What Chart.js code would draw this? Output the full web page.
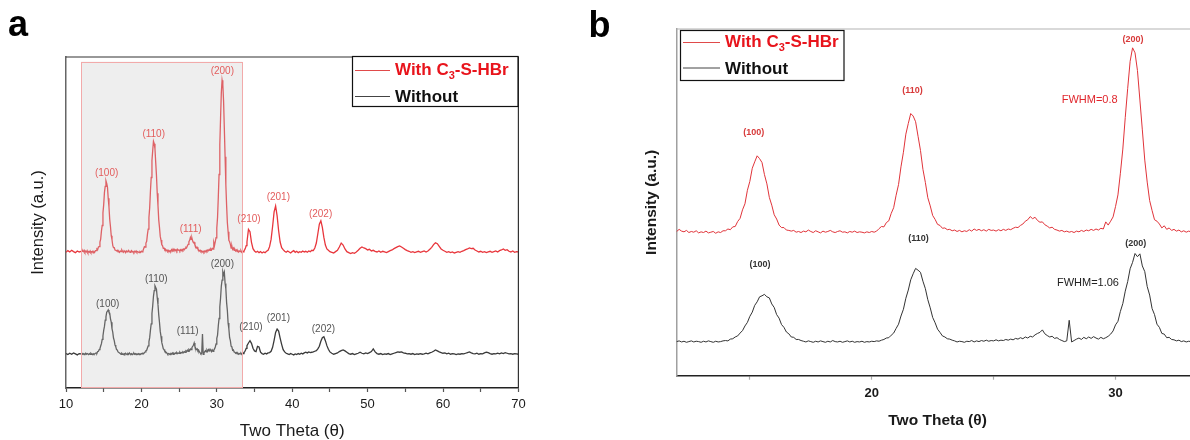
<!DOCTYPE html>
<html><head><meta charset="utf-8">
<script src="https://cdn.jsdelivr.net/npm/chart.js@4.4.0/dist/chart.umd.min.js"></script>
<style>
html,body{margin:0;padding:0;background:#fff;width:1190px;height:440px;overflow:hidden;position:relative;}
#wa{position:absolute;left:0;top:0;width:560px;height:440px;}
#wb{position:absolute;left:590px;top:0;width:620px;height:440px;}
canvas{display:block;}
</style></head><body>
<div id="wa"><canvas id="ca" width="560" height="440"></canvas></div>
<div id="wb"><canvas id="cb" width="620" height="440"></canvas></div>
<script>
// ---------- DATA ----------
const twoTheta = [
10,10.25,10.5,10.75,11,11.25,11.5,11.75,
12,12.1,12.2,12.3,12.4,12.5,12.6,12.7,12.8,12.9,
13,13.1,13.2,13.3,13.4,13.5,13.6,13.7,13.8,13.9,
14,14.1,14.2,14.3,14.4,14.5,14.6,14.7,14.8,14.9,
15,15.1,15.2,15.3,15.4,15.5,15.6,15.7,15.8,15.9,
16,16.1,16.2,16.3,16.4,16.5,16.6,16.7,16.8,16.9,
17,17.1,17.2,17.3,17.4,17.5,17.6,17.7,17.8,17.9,
18,18.1,18.2,18.3,18.4,18.5,18.6,18.7,18.8,18.9,
19,19.1,19.2,19.3,19.4,19.5,19.6,19.7,19.8,19.9,
20,20.1,20.2,20.3,20.4,20.5,20.6,20.7,20.8,20.9,
21,21.1,21.2,21.3,21.4,21.5,21.6,21.7,21.8,21.9,
22,22.1,22.2,22.3,22.4,22.5,22.6,22.7,22.8,22.9,
23,23.1,23.2,23.3,23.4,23.5,23.6,23.7,23.8,23.9,
24,24.1,24.2,24.3,24.4,24.5,24.6,24.7,24.8,24.9,
25,25.1,25.2,25.3,25.4,25.5,25.6,25.7,25.8,25.9,
26,26.1,26.2,26.3,26.4,26.5,26.6,26.7,26.8,26.9,
27,27.1,27.2,27.3,27.4,27.5,27.6,27.7,27.8,27.9,
28,28.1,28.2,28.3,28.4,28.5,28.6,28.7,28.8,28.9,
29,29.1,29.2,29.3,29.4,29.5,29.6,29.7,29.8,29.9,
30,30.1,30.2,30.3,30.4,30.5,30.6,30.7,30.8,30.9,
31,31.1,31.2,31.3,31.4,31.5,31.6,31.7,31.8,31.9,
32,32.1,32.2,32.3,32.4,32.5,32.6,32.7,32.8,32.9,
33,33.1,33.2,33.3,33.4,33.5,33.6,33.7,33.8,33.9,
34,
34.2,34.4,34.6,34.8,35,35.2,35.4,35.6,35.8,36,
36.2,36.4,36.6,36.8,37,37.2,37.4,37.6,37.8,38,
38.2,38.4,38.6,38.8,39,39.2,39.4,39.6,39.8,40,
40.2,40.4,40.6,40.8,41,41.2,41.4,41.6,41.8,42,
42.2,42.4,42.6,42.8,43,43.2,43.4,43.6,43.8,44,
44.2,44.4,44.6,44.8,45,
45.25,45.5,45.75,46,46.25,46.5,46.75,47,47.25,47.5,
47.75,48,48.25,48.5,48.75,49,49.25,49.5,49.75,50,
50.25,50.5,50.75,51,51.25,51.5,51.75,52,52.25,52.5,
52.75,53,53.25,53.5,53.75,54,54.25,54.5,54.75,55,
55.25,55.5,55.75,56,56.25,56.5,56.75,57,57.25,57.5,
57.75,58,58.25,58.5,58.75,59,59.25,59.5,59.75,60,
60.25,60.5,60.75,61,61.25,61.5,61.75,62,62.25,62.5,
62.75,63,63.25,63.5,63.75,64,64.25,64.5,64.75,65,
65.25,65.5,65.75,66,66.25,66.5,66.75,67,67.25,67.5,
67.75,68,68.25,68.5,68.75,69,69.25,69.5,69.75,70
];

const withC3SHBr = [
41.0,41.5,41.1,41.6,41.2,40.9,41.4,41.1,
41.3,41.9,41.4,41.2,41.6,41.0,41.3,41.1,41.5,40.9,
41.2,41.0,41.4,40.9,41.1,41.3,40.8,41.2,41.0,41.5,
41.5,42.0,41.8,42.6,42.7,44.1,45.0,47.4,49.1,52.9,
55.4,59.1,60.9,62.6,61.8,60.7,57.3,54.7,50.9,48.7,
46.0,44.8,43.1,42.4,42.4,41.7,41.6,41.4,41.6,41.1,
41.3,41.0,41.4,41.2,41.7,41.3,41.0,41.5,41.2,40.9,
41.4,41.1,41.3,41.6,41.2,41.0,41.3,41.5,41.1,41.2,
40.9,41.3,41.1,41.4,41.0,41.2,41.1,40.9,41.2,41.0,
41.3,41.1,41.4,42.1,42.7,42.6,43.8,44.3,46.4,48.0,
51.5,54.5,59.5,63.6,68.7,71.7,74.5,73.8,72.2,68.1,
64.1,58.8,55.1,50.8,48.5,45.8,44.7,43.3,43.0,42.2,
42.3,41.8,41.9,41.5,41.7,41.3,41.6,41.2,41.5,41.3,
41.8,41.4,42.0,41.6,41.9,41.5,41.8,41.4,41.9,41.6,
41.7,41.4,41.8,41.5,41.9,41.6,42.0,41.8,42.2,42.5,
42.4,43.0,43.4,44.2,44.6,45.5,44.9,45.3,44.4,43.9,
44.0,43.2,42.8,42.3,42.5,41.9,41.7,41.4,41.6,41.2,
41.4,41.1,41.3,41.0,41.4,41.2,41.6,41.3,41.7,41.5,
41.9,41.6,42.0,41.7,42.2,42.0,44.0,43.1,44.2,45.4,
48.3,51.6,57.7,64.5,73.4,81.6,89.2,93.0,91.6,86.6,
78.3,69.9,61.4,55.2,50.0,47.2,44.6,44.2,43.4,42.3,
42.9,41.9,42.3,41.6,41.9,41.4,41.7,41.2,41.5,41.1,
41.4,41.2,41.5,41.0,41.3,41.1,41.4,41.8,42.3,43.0,
44.1,
47.9,47.2,44.0,42.1,41.4,41.0,41.3,40.9,41.2,40.8,
41.1,40.9,41.3,41.6,42.7,44.9,48.8,53.2,55.0,52.0,
47.5,44.1,42.4,41.8,41.3,41.0,41.4,41.1,40.8,41.2,
41.5,41.0,41.3,40.9,41.2,41.0,41.4,41.1,41.3,41.0,
41.4,41.2,41.6,41.5,42.3,43.8,46.6,49.5,50.5,48.5,
45.5,43.2,42.0,41.6,41.2,
41.0,40.8,41.2,41.6,42.6,43.8,43.2,42.0,41.2,40.9,
40.6,40.9,40.7,41.1,41.6,42.2,42.6,42.3,42.1,41.7,
41.9,41.4,41.6,41.3,41.1,41.4,41.0,41.3,41.1,40.9,
41.2,41.5,41.7,42.1,42.4,42.7,42.9,42.6,42.2,41.8,
41.5,41.3,41.0,41.2,40.9,41.1,41.3,41.0,41.2,41.4,
41.1,41.4,41.9,42.5,43.3,43.9,43.6,42.8,42.0,41.6,
41.3,41.0,41.2,40.9,41.1,40.8,41.0,41.2,41.0,41.3,
41.5,41.8,42.0,42.3,42.1,42.2,41.7,41.4,41.1,41.3,
41.0,41.2,40.9,41.1,41.3,41.0,41.2,41.4,41.1,41.5,
41.7,42.0,41.6,41.8,41.3,41.1,41.4,41.0,41.2,41.1
];

const without = [
10.4,10.1,10.5,10.2,10.6,10.3,10.0,10.4,
10.3,10.5,10.2,10.4,10.1,10.3,10.5,10.2,10.4,10.3,
10.1,10.4,10.2,10.5,10.3,10.1,10.4,10.2,10.3,10.5,
10.6,10.5,11.0,11.1,11.6,11.9,12.7,13.4,14.7,15.7,
17.4,18.6,20.5,21.5,22.9,23.2,23.6,22.9,22.6,20.9,
19.9,17.9,16.9,15.1,14.3,13.0,12.5,11.6,11.5,10.9,
10.9,10.6,10.4,10.2,10.5,10.3,10.1,10.4,10.2,10.5,
10.3,10.1,10.4,10.2,10.6,10.3,10.2,10.4,10.1,10.3,
10.5,10.2,10.4,10.1,10.3,10.2,10.4,10.1,10.3,10.2,
10.4,10.3,10.5,10.4,10.7,10.9,11.3,11.4,12.1,12.7,
14.0,15.2,17.5,19.4,22.5,24.8,27.7,29.4,30.9,30.4,
29.8,27.3,25.2,22.1,19.8,17.1,15.6,13.8,12.9,11.9,
11.6,11.1,11.0,10.7,10.5,10.2,10.4,10.3,10.1,10.4,
10.3,10.6,10.2,10.5,10.3,10.6,10.4,10.7,10.4,10.6,
10.5,10.8,10.5,10.7,10.6,10.9,10.7,11.0,10.8,11.2,
11.0,11.4,11.1,11.6,11.3,11.8,11.6,12.2,12.6,12.9,
13.6,12.5,12.0,11.6,11.8,11.2,11.4,10.9,10.6,10.3,
10.5,16.3,10.2,10.6,11.0,11.3,10.9,11.5,11.1,11.6,
11.2,11.7,11.3,11.0,11.5,11.1,11.4,11.8,12.4,13.3,
15.0,16.0,18.8,21.0,24.5,27.2,30.8,32.6,35.1,34.2,
35.0,31.6,30.0,25.8,23.4,19.6,17.9,15.2,14.3,12.6,
12.4,11.4,11.5,10.9,10.8,10.5,10.7,10.3,10.5,10.2,
10.4,10.3,10.5,10.2,10.6,10.4,10.7,11.0,11.4,12.0,
12.8,
13.6,14.3,13.5,12.0,11.2,11.0,12.6,12.4,10.8,10.4,
10.2,10.5,10.3,10.6,10.7,11.1,12.3,14.4,16.8,17.8,
17.2,15.1,13.2,11.6,10.9,10.5,10.3,10.1,10.4,10.2,
10.0,10.3,10.1,10.4,10.2,10.5,10.3,10.6,10.8,10.6,
10.9,10.7,10.8,10.9,11.1,11.3,11.8,12.6,14.1,15.2,
15.5,14.3,12.8,11.7,10.9,
10.5,10.2,10.4,10.6,11.0,11.3,11.5,11.2,10.8,10.4,
10.2,10.4,10.1,10.3,10.5,10.8,10.5,10.3,10.6,10.4,
10.7,11.0,11.8,10.9,10.4,10.2,10.4,10.1,10.3,10.2,
10.4,10.1,10.3,10.5,10.7,10.9,10.8,10.9,10.6,10.5,
10.3,10.4,10.2,10.4,10.1,10.3,10.2,10.4,10.2,10.3,
10.5,10.3,10.6,10.8,11.1,11.5,11.2,10.9,10.7,10.5,
10.6,10.3,10.5,10.2,10.4,10.3,10.1,10.3,10.2,10.4,
10.3,10.5,10.7,10.9,10.6,10.4,10.3,10.5,10.2,10.4,
10.3,10.6,10.8,10.7,10.4,10.2,10.4,10.3,10.5,10.3,
10.6,10.4,10.7,10.5,10.3,10.4,10.2,10.4,10.3,10.2
];

const seriesNames = ['With C3-S-HBr', 'Without'];

// x-axis ticks
const majorTicksA = [10, 20, 30, 40, 50, 60, 70];
const minorTicksA = [15, 25, 35, 45, 55, 65];
const majorTicksB = [20, 30];
const minorTicksB = [15, 25];

// highlighted 2-theta window of panel a (zoomed in panel b)
const zoomWindow = [12, 33.4];
const zoomWindowTop = 98.6;

// peak annotations, panel a
const peakLabelsA = ['(100)', '(110)', '(111)', '(200)', '(210)', '(201)', '(202)'];
const withLabelXA = [15.39, 21.63, 26.53, 30.73, 34.27, 38.16, 43.76];
const withLabelYA = [65.0, 76.7, 48.0, 95.6, 51.1, 57.5, 52.6];
const withoutLabelXA = [15.53, 21.98, 26.14, 30.73, 34.54, 38.16, 44.14];
const withoutLabelYA = [25.3, 32.8, 17.0, 37.5, 18.3, 21.1, 17.8];

// peak annotations, panel b
const peakLabelsB = ['(100)', '(110)', '(200)'];
const withLabelXB = [15.16, 21.67, 30.72];
const withLabelYB = [69.2, 80.9, 95.2];
const withoutLabelXB = [15.42, 21.92, 30.83];
const withoutLabelYB = [31.9, 39.4, 38.0];
const fwhmTexts = ['FWHM=0.8', 'FWHM=1.06'];
const fwhmX = [28.94, 28.87];
const fwhmY = [78.2, 26.7];

if (withC3SHBr.length !== twoTheta.length || without.length !== twoTheta.length) {
  console.error('length mismatch', twoTheta.length, withC3SHBr.length, without.length);
}

// ---------- RENDER ----------
const FAM = "'Liberation Sans', Arial, Helvetica, sans-serif";
const RED = '#e8363c';
const BLK = '#3a3a3a';

function pts(ys) { return twoTheta.map((x, i) => ({ x: x, y: ys[i] })); }

function drawLabels(chart, texts, xs, ys, color, font) {
  const { ctx, scales: { x, y } } = chart;
  ctx.save();
  ctx.font = font; ctx.fillStyle = color;
  ctx.textAlign = 'center'; ctx.textBaseline = 'middle';
  texts.forEach((t, i) => ctx.fillText(t, x.getPixelForValue(xs[i]), y.getPixelForValue(ys[i])));
  ctx.restore();
}

function drawLegend(ctx, bx, by, bw, bh, row1, row2, lx0, lx1, tx) {
  ctx.save();
  ctx.fillStyle = '#fff';
  ctx.fillRect(bx, by, bw, bh);
  ctx.strokeStyle = '#111'; ctx.lineWidth = 1.2;
  ctx.strokeRect(bx, by, bw, bh);
  ctx.lineWidth = 1;
  ctx.strokeStyle = '#e04a4a';
  ctx.beginPath(); ctx.moveTo(lx0, row1); ctx.lineTo(lx1, row1); ctx.stroke();
  ctx.strokeStyle = '#444';
  ctx.beginPath(); ctx.moveTo(lx0, row2); ctx.lineTo(lx1, row2); ctx.stroke();
  ctx.textBaseline = 'middle'; ctx.textAlign = 'left';
  ctx.fillStyle = '#e8141c';
  ctx.font = 'bold 17px ' + FAM;
  let x = tx;
  const p1 = 'With C';
  ctx.fillText(p1, x, row1); x += ctx.measureText(p1).width;
  ctx.font = 'bold 11px ' + FAM;
  ctx.fillText('3', x, row1 + 5); x += ctx.measureText('3').width;
  ctx.font = 'bold 17px ' + FAM;
  ctx.fillText('-S-HBr', x, row1);
  ctx.fillStyle = '#111';
  ctx.fillText(seriesNames[1], tx, row2 + 1);
  ctx.restore();
}

const decorA = {
  id: 'decorA',
  afterDatasetsDraw(chart) {
    const { ctx, chartArea: ca, scales: { x, y } } = chart;
    const x0 = x.getPixelForValue(zoomWindow[0]);
    const x1 = x.getPixelForValue(zoomWindow[1]);
    const yt = y.getPixelForValue(zoomWindowTop);
    ctx.save();
    ctx.fillStyle = 'rgba(200,200,200,0.3)';
    ctx.fillRect(x0, yt, x1 - x0, ca.bottom - 1 - yt);
    ctx.strokeStyle = '#f2aaaa'; ctx.lineWidth = 1;
    ctx.strokeRect(Math.round(x0) + 0.5, Math.round(yt) + 0.5, Math.round(x1 - x0), Math.round(ca.bottom - 1 - yt));
    ctx.restore();
    drawLabels(chart, peakLabelsA, withLabelXA, withLabelYA, '#e35d5d', '10px ' + FAM);
    drawLabels(chart, peakLabelsA, withoutLabelXA, withoutLabelYA, '#555', '10px ' + FAM);
  },
  afterDraw(chart) {
    const { ctx, chartArea: ca } = chart;
    ctx.save();
    ctx.strokeStyle = '#333'; ctx.lineWidth = 1.2;
    ctx.beginPath();
    ctx.moveTo(ca.left, ca.top); ctx.lineTo(ca.right, ca.top); ctx.lineTo(ca.right, ca.bottom);
    ctx.stroke();
    ctx.restore();
    drawLegend(ctx, 352.5, 56.5, 165.5, 50, 70.5, 96.5, 355, 390, 395);
    ctx.save();
    ctx.fillStyle = '#000'; ctx.font = 'bold 36px ' + FAM;
    ctx.textBaseline = 'alphabetic'; ctx.textAlign = 'left';
    ctx.fillText('a', 8, 36);
    ctx.restore();
  }
};

const decorB = {
  id: 'decorB',
  afterDatasetsDraw(chart) {
    drawLabels(chart, peakLabelsB, withLabelXB, withLabelYB, '#d83a3a', 'bold 9px ' + FAM);
    drawLabels(chart, peakLabelsB, withoutLabelXB, withoutLabelYB, '#333', 'bold 9px ' + FAM);
    drawLabels(chart, [fwhmTexts[0]], [fwhmX[0]], [fwhmY[0]], '#e0262c', '11px ' + FAM);
    drawLabels(chart, [fwhmTexts[1]], [fwhmX[1]], [fwhmY[1]], '#222', '11px ' + FAM);
  },
  afterDraw(chart) {
    const { ctx, chartArea: ca } = chart;
    ctx.save();
    ctx.strokeStyle = '#b4b4b4'; ctx.lineWidth = 1.2;
    ctx.beginPath(); ctx.moveTo(ca.left, ca.top); ctx.lineTo(ca.right, ca.top); ctx.stroke();
    ctx.restore();
    drawLegend(ctx, 90.5, 30.5, 163.5, 50, 42.5, 68, 93, 130, 135);
    ctx.save();
    ctx.fillStyle = '#000'; ctx.font = 'bold 36px ' + FAM;
    ctx.textBaseline = 'alphabetic'; ctx.textAlign = 'left';
    ctx.fillText('b', -1.5, 37);
    ctx.restore();
  }
};

function makeChart(id, cfg) {
  return new Chart(document.getElementById(id), {
    type: 'line',
    data: {
      datasets: [
        { label: seriesNames[0], data: pts(withC3SHBr), borderColor: cfg.red, borderWidth: cfg.lw, pointRadius: 0, tension: 0 },
        { label: seriesNames[1], data: pts(without), borderColor: cfg.blk, borderWidth: cfg.lw, pointRadius: 0, tension: 0 }
      ]
    },
    options: {
      responsive: false, animation: false, devicePixelRatio: 1,
      layout: { padding: cfg.padding },
      plugins: { legend: { display: false }, tooltip: { enabled: false } },
      scales: {
        x: {
          type: 'linear', min: cfg.xmin, max: cfg.xmax,
          afterBuildTicks: s => { s.ticks = cfg.major.concat(cfg.minor).sort((a, b) => a - b).map(v => ({ value: v })); },
          ticks: {
            autoSkip: false, maxRotation: 0, padding: cfg.tickPad,
            callback: v => cfg.major.includes(v) ? String(v) : '',
            font: { family: FAM, size: 13, weight: cfg.tickWeight }, color: '#1a1a1a'
          },
          grid: { display: true, drawOnChartArea: false, drawTicks: true, tickLength: 4, tickColor: cfg.tickColor, tickWidth: 1.2 },
          border: { display: true, color: '#222', width: 1.5 },
          title: {
            display: true, text: 'Two Theta (θ)', color: '#1a1a1a',
            font: { family: FAM, size: cfg.titleSize, weight: cfg.titleWeight, lineHeight: 1 },
            padding: { top: 0, bottom: cfg.xTitlePadBottom }
          },
          afterFit: s => { s.height = cfg.xAxisH; }
        },
        y: {
          type: 'linear', min: cfg.ymin, max: cfg.ymax,
          ticks: { display: false },
          grid: { display: false, drawTicks: false },
          border: { display: true, color: cfg.leftColor, width: 1.5 },
          title: {
            display: true, text: 'Intensity (a.u.)', color: '#1a1a1a',
            font: { family: FAM, size: cfg.yTitleSize, weight: cfg.titleWeight, lineHeight: 1 },
            padding: { top: cfg.yTitlePadTop, bottom: 0 }
          },
          afterFit: s => { s.width = cfg.yAxisW; }
        }
      }
    },
    plugins: [cfg.plugin]
  });
}

makeChart('ca', {
  red: RED, blk: BLK, lw: 1.3,
  padding: { top: 57, right: 41.6, bottom: 0, left: 0 },
  xmin: 10, xmax: 70, major: majorTicksA, minor: minorTicksA,
  tickPad: 5, tickWeight: 'normal', tickColor: '#555',
  titleSize: 17, yTitleSize: 16.5, titleWeight: 'normal',
  xTitlePadBottom: 0, xAxisH: 52,
  ymin: 0, ymax: 100, leftColor: '#666', yTitlePadTop: 30.5, yAxisW: 66,
  plugin: decorA
});

makeChart('cb', {
  red: '#e0343a', blk: '#333', lw: 1,
  padding: { top: 29, right: 11.6, bottom: 0, left: 0 },
  xmin: 12, xmax: 33.4, major: majorTicksB, minor: minorTicksB,
  tickPad: 5.8, tickWeight: 'bold', tickColor: '#aaa',
  titleSize: 15.5, yTitleSize: 15.5, titleWeight: 'bold',
  xTitlePadBottom: 11.5, xAxisH: 64.3,
  ymin: 0.7, ymax: 98.3, leftColor: '#a0a0a0', yTitlePadTop: 54, yAxisW: 86.7,
  plugin: decorB
});
</script>
</body></html>
